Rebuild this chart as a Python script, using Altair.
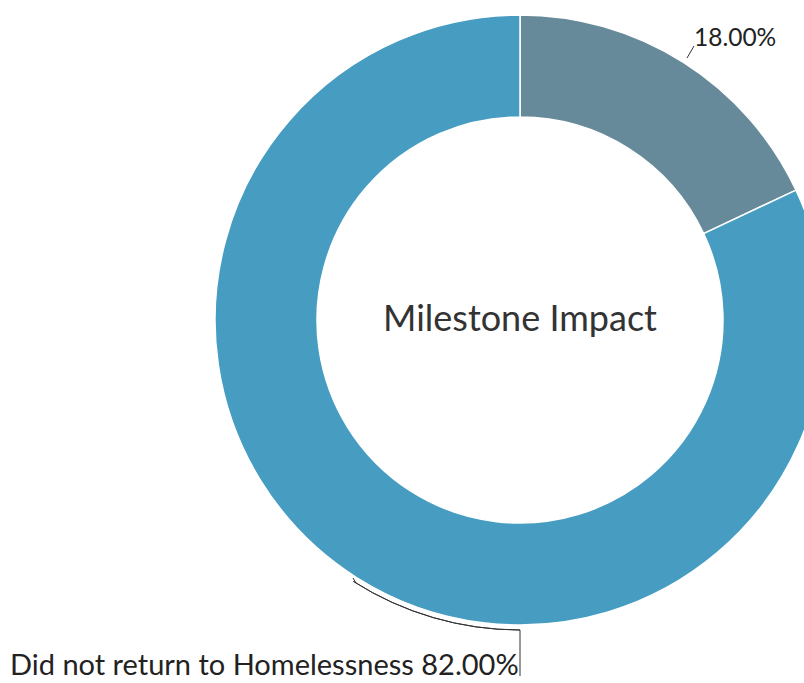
import altair as alt
import pandas as pd
import math

categories = ["Returned to Homelessness", "Did not return to Homelessness"]
shares = [18.0, 82.0]
slice_labels = ["18.00%", "Did not return to Homelessness 82.00%"]
colors = ["#678A9A", "#469CC1"]
center_title = "Milestone Impact"

df = pd.DataFrame({"category": categories, "share": shares,
                   "label": slice_labels, "order": [0, 1]})

CX, CY = 520, 320
FONT = "Lato"

donut = alt.Chart(df).mark_arc(
    radius=305, radius2=203, stroke="white", strokeWidth=1.5
).encode(
    theta=alt.Theta("share:Q", stack=True),
    order=alt.Order("order:Q"),
    color=alt.Color("category:N", scale=alt.Scale(domain=categories, range=colors), legend=None),
    x=alt.value(CX), y=alt.value(CY),
)

center = alt.Chart(df).transform_filter("datum.order == 0").mark_text(
    font=FONT, fontSize=36, color="#333333", align="center", baseline="middle"
).encode(x=alt.value(CX), y=alt.value(CY), text=alt.value(center_title))

lab18 = alt.Chart(df).transform_filter("datum.order == 0").mark_text(
    font=FONT, fontSize=24.5, color="#222222", align="left", baseline="middle"
).encode(x=alt.value(694), y=alt.value(39), text="label:N")

lab82 = alt.Chart(df).transform_filter("datum.order == 1").mark_text(
    font=FONT, fontSize=29, color="#222222", align="left", baseline="middle"
).encode(x=alt.value(10), y=alt.value(666), text="label:N")

# leader lines
lead18 = alt.Chart(df).transform_filter("datum.order == 0").mark_rule(
    color="#333333", strokeWidth=1
).encode(x=alt.value(687), y=alt.value(58), x2=alt.value(694), y2=alt.value(46))

lead82_arc = alt.Chart(df).transform_filter("datum.order == 1").mark_arc(
    radius=310, radius2=310, theta=math.pi, theta2=math.radians(212.5),
    filled=False, stroke="#333333", strokeWidth=1
).encode(x=alt.value(CX), y=alt.value(CY))

lead82_hook = alt.Chart(df).transform_filter("datum.order == 1").mark_rule(
    color="#333333", strokeWidth=1
).encode(x=alt.value(353), y=alt.value(578), x2=alt.value(356), y2=alt.value(583))

lead82_drop = alt.Chart(df).transform_filter("datum.order == 1").mark_rule(
    color="#333333", strokeWidth=1
).encode(x=alt.value(520), y=alt.value(630), x2=alt.value(520), y2=alt.value(676))

chart = alt.layer(donut, center, lab18, lab82, lead18, lead82_arc, lead82_hook, lead82_drop).properties(
    width=804, height=683, padding=0, autosize=alt.AutoSizeParams(type="none")
).configure_view(stroke=None)

chart.save("out.html", embed_options={"renderer": "svg", "actions": False})
